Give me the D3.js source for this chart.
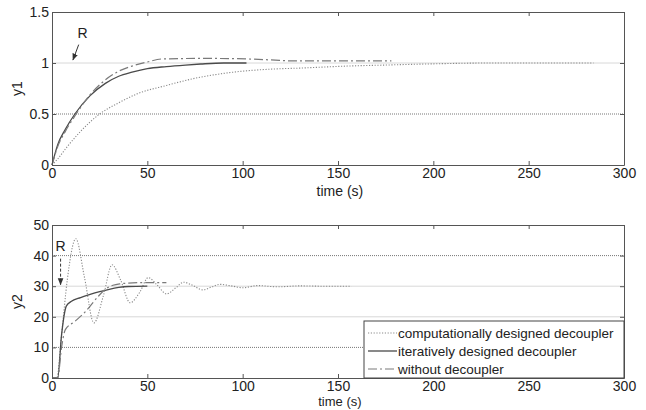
<!DOCTYPE html>
<html>
<head>
<meta charset="utf-8">
<script src="https://cdn.jsdelivr.net/npm/d3@7"></script>
<style>
  body { margin: 0; background: #fff; }
  svg { font-family: "Liberation Sans", Arial, sans-serif; }
</style>
</head>
<body>
<div id="chart"></div>
<script>
// y1 step responses
const t1Comp = [0, 3, 8, 15, 25, 35, 45, 60, 75, 95, 115, 130, 155, 175, 196, 230, 284];
const y1Comp = [0, 0.06, 0.18, 0.33, 0.5, 0.61, 0.7, 0.78, 0.85, 0.91, 0.94, 0.95, 0.97, 0.98, 0.99, 1.0, 1.0];
const t1Iter = [0, 3, 7, 12, 20, 28, 35, 42, 50, 60, 70, 78, 90, 102];
const y1Iter = [0, 0.2, 0.35, 0.5, 0.68, 0.8, 0.87, 0.91, 0.945, 0.965, 0.98, 0.99, 1.0, 1.0];
const t1None = [0, 3, 7, 12, 20, 27, 34, 42, 50, 58, 80, 102, 115, 128, 150, 178];
const y1None = [0, 0.18, 0.33, 0.48, 0.69, 0.82, 0.91, 0.97, 1.01, 1.04, 1.045, 1.04, 1.03, 1.02, 1.02, 1.02];

// y2 responses
const t2Comp = [0, 2.5, 5, 8, 12.5, 17, 22, 27, 31.5, 36, 41, 46, 50.5, 55, 60, 65, 69, 74, 79, 84, 88, 94, 100, 108, 118, 130, 142, 157];
const y2Comp = [0, 0, 14, 32, 45.5, 33, 18, 27, 37, 32, 24.6, 28, 32.8, 30.5, 27.5, 29.5, 31.3, 30.2, 28.8, 29.8, 30.6, 30.1, 29.5, 30.2, 29.8, 30.1, 30, 30];
const t2Iter = [0, 3, 5, 7.5, 10, 15, 20, 25, 30, 35, 40, 50];
const y2Iter = [0, 0, 14, 23.5, 25, 26.3, 27.3, 28.2, 29, 29.6, 29.9, 30];
const t2None = [0, 3, 5, 7, 12, 18, 24, 28, 32, 36, 40, 50, 60];
const y2None = [0, 0, 10, 15.8, 18.5, 22, 26.5, 29, 30.3, 30.8, 31, 31.2, 31.2];

const xTicks = [0, 50, 100, 150, 200, 250, 300];
const y1Ticks = [0, 0.5, 1, 1.5];
const y2Ticks = [0, 10, 20, 30, 40, 50];
const legendLabels = ['computationally designed decoupler', 'iteratively designed decoupler', 'without decoupler'];

const W = 646, H = 410;
const left = 52, right = 624;

const svg = d3.select('#chart').append('svg')
  .attr('width', W).attr('height', H);

const styles = [
  { stroke: '#8a8a8a', width: 1.1, dash: '1.2,1.6' },
  { stroke: '#4a4a4a', width: 1.3, dash: null },
  { stroke: '#7a7a7a', width: 1.2, dash: '9,3,2,3' }
];

const x = d3.scaleLinear().domain([0, 300]).range([left, right]);

function panel(top, bottom, yDomain, yTicks, yLabelText, series, grid, timeY, timeSize) {
  const y = d3.scaleLinear().domain(yDomain).range([bottom, top]);
  const g = svg.append('g');

  // reference lines
  grid.forEach(d => {
    g.append('line')
      .attr('x1', left).attr('x2', right)
      .attr('y1', y(d.v)).attr('y2', y(d.v))
      .attr('stroke', d.dark ? '#777' : '#d8d8d8')
      .attr('stroke-width', 1)
      .attr('stroke-dasharray', d.dark ? '1,1' : null);
  });

  const line = d3.line()
    .x(d => x(d[0])).y(d => y(d[1]))
    .curve(d3.curveMonotoneX);

  series.forEach((s, i) => {
    g.append('path')
      .datum(d3.zip(s[0], s[1]))
      .attr('d', line)
      .attr('fill', 'none')
      .attr('stroke', styles[i].stroke)
      .attr('stroke-width', styles[i].width)
      .attr('stroke-dasharray', styles[i].dash);
  });

  // axes with inward ticks
  const xAxis = g.append('g')
    .attr('transform', `translate(0,${bottom})`)
    .call(d3.axisBottom(x).tickValues(xTicks).tickSizeInner(-4).tickSizeOuter(0).tickPadding(3));
  const xTop = g.append('g')
    .attr('transform', `translate(0,${top})`)
    .call(d3.axisTop(x).tickValues(xTicks).tickSizeInner(-4).tickSizeOuter(0).tickFormat(''));
  const yAxis = g.append('g')
    .attr('transform', `translate(${left},0)`)
    .call(d3.axisLeft(y).tickValues(yTicks).tickFormat(d => String(d))
      .tickSizeInner(-4).tickSizeOuter(0).tickPadding(3));
  const yRight = g.append('g')
    .attr('transform', `translate(${right},0)`)
    .call(d3.axisRight(y).tickValues(yTicks).tickSizeInner(-4).tickSizeOuter(0).tickFormat(''));

  [xAxis, xTop, yAxis, yRight].forEach(a => {
    a.select('.domain').attr('stroke', '#555');
    a.selectAll('.tick line').attr('stroke', '#555');
    a.selectAll('.tick text').attr('fill', '#222').style('font-size', '14px')
      .style('font-family', '"Liberation Sans", Arial, sans-serif');
  });

  g.append('text')
    .attr('transform', `translate(22,${(top + bottom) / 2}) rotate(-90)`)
    .attr('text-anchor', 'middle')
    .style('font-size', '14px').attr('fill', '#222')
    .text(yLabelText);

  g.append('text')
    .attr('x', x(151)).attr('y', timeY)
    .attr('text-anchor', 'middle')
    .style('font-size', timeSize + 'px').attr('fill', '#222')
    .text('time (s)');

  return { g, y };
}

const p1 = panel(12, 165, [0, 1.5], y1Ticks, 'y1',
  [[t1Comp, y1Comp], [t1Iter, y1Iter], [t1None, y1None]],
  [{ v: 0.5, dark: true }, { v: 1, dark: false }], 196, 14);

const p2 = panel(225, 378, [0, 50], y2Ticks, 'y2',
  [[t2Comp, y2Comp], [t2Iter, y2Iter], [t2None, y2None]],
  [{ v: 10, dark: true }, { v: 20, dark: false }, { v: 30, dark: false }, { v: 40, dark: true }], 406, 13);

// arrow marker
svg.append('defs').append('marker')
  .attr('id', 'arr').attr('viewBox', '0 0 10 10')
  .attr('refX', 9).attr('refY', 5)
  .attr('markerWidth', 7).attr('markerHeight', 7)
  .attr('orient', 'auto-start-reverse')
  .append('path').attr('d', 'M0,1 L10,5 L0,9 Z').attr('fill', '#333');

// R annotation, top panel
p1.g.append('text').attr('x', x(16)).attr('y', p1.y(1.25))
  .attr('text-anchor', 'middle').style('font-size', '14px').attr('fill', '#222').text('R');
p1.g.append('line')
  .attr('x1', x(14)).attr('y1', p1.y(1.18))
  .attr('x2', x(11)).attr('y2', p1.y(1.03))
  .attr('stroke', '#333').attr('stroke-width', 1)
  .attr('marker-end', 'url(#arr)');

// R annotation, bottom panel
p2.g.append('text').attr('x', x(4.5)).attr('y', p2.y(41.5))
  .attr('text-anchor', 'middle').style('font-size', '14px').attr('fill', '#222').text('R');
p2.g.append('line')
  .attr('x1', x(4.5)).attr('y1', p2.y(39))
  .attr('x2', x(4.5)).attr('y2', p2.y(30.5))
  .attr('stroke', '#333').attr('stroke-width', 1)
  .attr('stroke-dasharray', '3,2')
  .attr('marker-end', 'url(#arr)');

// legend
const lg = p2.g.append('g');
const lx0 = 364, ly0 = 321;
lg.append('rect')
  .attr('x', lx0).attr('y', ly0).attr('width', right - lx0).attr('height', 378 - ly0)
  .attr('fill', '#fff').attr('stroke', '#444').attr('stroke-width', 1);
legendLabels.forEach((lab, i) => {
  const yy = ly0 + 12 + i * 18;
  lg.append('line')
    .attr('x1', lx0 + 4).attr('x2', lx0 + 33)
    .attr('y1', yy).attr('y2', yy)
    .attr('stroke', styles[i].stroke).attr('stroke-width', styles[i].width)
    .attr('stroke-dasharray', styles[i].dash);
  lg.append('text')
    .attr('x', lx0 + 34).attr('y', yy + 5)
    .style('font-size', '13.5px').attr('fill', '#222')
    .text(lab);
});
</script>
</body>
</html>
